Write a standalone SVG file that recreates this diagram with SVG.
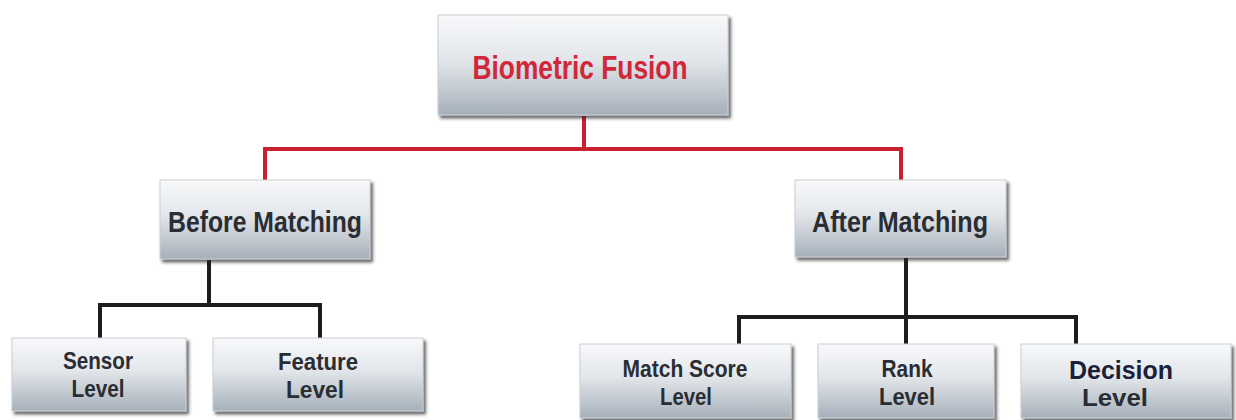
<svg xmlns="http://www.w3.org/2000/svg" width="1236" height="420" viewBox="0 0 1236 420">
  <defs>
    <linearGradient id="boxFill" x1="0" y1="0" x2="0" y2="1">
      <stop offset="0" stop-color="#f8f9fb"/>
      <stop offset="0.45" stop-color="#e2e6ea"/>
      <stop offset="1" stop-color="#a6b0ba"/>
    </linearGradient>
    <filter id="shadow" x="-5%" y="-10%" width="115%" height="130%">
      <feDropShadow dx="2.5" dy="3" stdDeviation="1.6" flood-color="#2a2a2a" flood-opacity="0.7"/>
    </filter>
  </defs>
  <style>
    .box { fill: url(#boxFill); stroke: #c9ced4; stroke-width: 1; filter: url(#shadow); }
    .lbl { font-family: "Liberation Sans", Arial, sans-serif; font-weight: bold; fill: #2a2d33; text-anchor: middle; }
    .title { fill: #d0283a; }
    .dec { fill: #1c1f3a; }
    .red { fill: none; stroke: #c8202f; stroke-width: 4; }
    .blk { fill: none; stroke: #1d1d1d; stroke-width: 4; }
  </style>

  <rect width="1236" height="420" fill="#ffffff"/>

  <!-- connectors -->
  <g id="connectors">
    <path class="red" d="M584 116 V149 M265 149 H901 M265 147 V180 M901 147 V180"/>
    <path class="blk" d="M209 260 V305 M100 305 H320 M100 303 V338 M320 303 V338"/>
    <path class="blk" d="M906 258 V317 M739 317 H1076 M739 315 V344 M906 315 V344 M1076 315 V344"/>
  </g>

  <!-- root -->
  <g id="biometric-fusion">
    <rect class="box" x="438" y="15" width="290" height="100"/>
    <text class="lbl title" x="580" y="79" font-size="33" textLength="215" lengthAdjust="spacingAndGlyphs">Biometric Fusion</text>
  </g>

  <!-- second level -->
  <g id="before-matching">
    <rect class="box" x="160" y="180" width="210" height="79"/>
    <text class="lbl" x="265" y="232" font-size="30" textLength="194" lengthAdjust="spacingAndGlyphs">Before Matching</text>
  </g>
  <g id="after-matching">
    <rect class="box" x="795" y="180" width="211" height="77"/>
    <text class="lbl" x="900" y="232" font-size="30" textLength="176" lengthAdjust="spacingAndGlyphs">After Matching</text>
  </g>

  <!-- fusion levels before matching -->
  <g id="sensor-level">
    <rect class="box" x="12" y="338" width="174" height="73"/>
    <text class="lbl" x="98" y="369" font-size="24" textLength="70" lengthAdjust="spacingAndGlyphs">Sensor</text>
    <text class="lbl" x="98" y="397" font-size="24" textLength="53" lengthAdjust="spacingAndGlyphs">Level</text>
  </g>
  <g id="feature-level">
    <rect class="box" x="213" y="338" width="210" height="73"/>
    <text class="lbl" x="318" y="370" font-size="24" textLength="80" lengthAdjust="spacingAndGlyphs">Feature</text>
    <text class="lbl" x="315" y="398" font-size="24" textLength="58" lengthAdjust="spacingAndGlyphs">Level</text>
  </g>

  <!-- fusion levels after matching -->
  <g id="match-score-level">
    <rect class="box" x="580" y="344" width="211" height="74"/>
    <text class="lbl" x="685" y="377" font-size="24" textLength="125" lengthAdjust="spacingAndGlyphs">Match Score</text>
    <text class="lbl" x="686" y="405" font-size="24" textLength="52" lengthAdjust="spacingAndGlyphs">Level</text>
  </g>
  <g id="rank-level">
    <rect class="box" x="818" y="344" width="176" height="74"/>
    <text class="lbl" x="907" y="377" font-size="24" textLength="51" lengthAdjust="spacingAndGlyphs">Rank</text>
    <text class="lbl" x="907" y="405" font-size="24" textLength="56" lengthAdjust="spacingAndGlyphs">Level</text>
  </g>
  <g id="decision-level">
    <rect class="box" x="1021" y="344" width="210" height="74"/>
    <text class="lbl dec" x="1121" y="379" font-size="25" textLength="104" lengthAdjust="spacingAndGlyphs">Decision</text>
    <text class="lbl" x="1115" y="406" font-size="23" textLength="66" lengthAdjust="spacingAndGlyphs">Level</text>
  </g>
</svg>
